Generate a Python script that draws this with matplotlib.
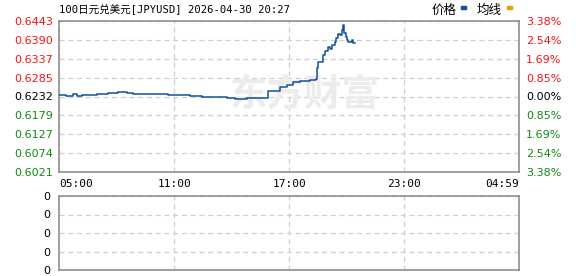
import matplotlib
matplotlib.use("Agg")
import matplotlib.pyplot as plt
import numpy as np

# ---- data ----
times = ["05:00","05:22","05:44","05:56","06:12","06:53","06:59","07:33","07:49","08:05",
         "08:27","08:33","08:52","09:14","09:45","10:01","10:32","10:41","11:19","11:50",
         "12:28","13:02","13:24","13:46","14:11","14:49","15:23","15:51","15:54","16:16",
         "16:32","16:54","17:13","17:34","18:06","18:25","18:28","18:31","18:43","18:46",
         "18:53","19:02","19:08","19:15","19:24","19:27","19:33","19:40","19:46","19:48",
         "19:50","19:55","19:58","20:02","20:05","20:14","20:17","20:20","20:27"]
prices = [0.6235,0.6234,0.6238,0.6234,0.6236,0.6236,0.6238,0.6241,0.6242,0.6245,
          0.6245,0.6241,0.6238,0.6239,0.6239,0.6238,0.6238,0.6235,0.6236,0.6234,
          0.6230,0.6231,0.6231,0.6227,0.6225,0.6228,0.6229,0.6229,0.6247,0.6248,
          0.6258,0.6264,0.6273,0.6276,0.6279,0.6281,0.6312,0.6329,0.6329,0.6348,
          0.6360,0.6370,0.6365,0.6376,0.6384,0.6395,0.6407,0.6404,0.6418,0.6432,
          0.6409,0.6409,0.6399,0.6390,0.6385,0.6385,0.6389,0.6382,0.6381]
price_ticks = [0.6443, 0.6390, 0.6337, 0.6285, 0.6232, 0.6179, 0.6127, 0.6074, 0.6021]
price_labels = ["0.6443", "0.6390", "0.6337", "0.6285", "0.6232", "0.6179", "0.6127", "0.6074", "0.6021"]
pct_labels = ["3.38%", "2.54%", "1.69%", "0.85%", "0.00%", "0.85%", "1.69%", "2.54%", "3.38%"]
x_tick_labels = ["05:00", "11:00", "17:00", "23:00", "04:59"]
vol_labels = ["0", "0", "0", "0", "0"]
title = "100日元兑美元[JPYUSD] 2026-04-30 20:27"

RED = "#ff1010"
GREEN = "#108a10"
BLACK = "#000000"
BLUE = "#12509e"
GRID = "#cfcfcf"
SPINE = "#8f8f8f"

def to_min(s):
    h, m = map(int, s.split(":"))
    return ((h - 5) % 24) * 60 + m

xs = np.array([to_min(t) for t in times])
tick_pos = [to_min(t) if i < 4 else 1439 for i, t in enumerate(x_tick_labels)]

W, H = 578, 276
fig = plt.figure(figsize=(W / 100, H / 100), dpi=100)

def ax_rect(l, t, r, b):
    return [l / W, 1 - b / H, (r - l) / W, (b - t) / H]

ax = fig.add_axes(ax_rect(59, 21, 519, 172))
ax.set_xlim(0, 1439)
ax.set_ylim(price_ticks[-1], price_ticks[0])

# watermark (inside axes, below the line)
ax.text(305 / W, 1 - 95 / H, "东方财富", transform=fig.transFigure, family=["Noto Sans CJK SC"],
        fontsize=27, fontweight="bold", color="#ececec", ha="center", va="center",
        zorder=1, style="italic")

ax.plot(xs, prices, color=BLUE, lw=1.1, drawstyle="steps-post", zorder=3)

for sp in ax.spines.values():
    sp.set_color(SPINE)
    sp.set_linewidth(1.2)
ax.set_yticks(price_ticks)
ax.set_yticklabels(price_labels)
ax.set_xticks(tick_pos)
ax.set_xticklabels(x_tick_labels)
ax.tick_params(length=0, labelsize=8)
ax.tick_params(axis="y", pad=4)
ax.tick_params(axis="x", pad=5)
for lab, v in zip(ax.get_yticklabels(), price_ticks):
    lab.set_color(RED if v > 0.6232 else (GREEN if v < 0.6232 else BLACK))
xl = ax.get_xticklabels()
for f in xl:
    f.set_family("DejaVu Sans Mono")
xl[0].set_ha("left")
xl[-1].set_ha("right")
ax.grid(True, color=GRID, ls=(0, (4, 3)), lw=0.9, zorder=0)
ax.set_axisbelow(True)

ax2 = ax.twinx()
ax2.set_ylim(ax.get_ylim())
ax2.set_yticks(price_ticks)
ax2.set_yticklabels(pct_labels)
ax2.tick_params(length=0, labelsize=8, pad=5)
for lab, v in zip(ax2.get_yticklabels(), price_ticks):
    lab.set_color(RED if v > 0.6232 else (GREEN if v < 0.6232 else BLACK))
for sp in ax2.spines.values():
    sp.set_visible(False)
ax2.patch.set_alpha(0)

# lower panel
bx = fig.add_axes(ax_rect(59, 196, 519, 270))
bx.set_xlim(0, 1439)
bx.set_ylim(0, 4)
bx.set_yticks(range(5))
bx.set_yticklabels(vol_labels)
bx.set_xticks(tick_pos[1:4])
bx.set_xticklabels([])
bx.tick_params(length=0, labelsize=8, pad=6)
bx.grid(True, color=GRID, ls=(0, (4, 3)), lw=0.9)
for sp in bx.spines.values():
    sp.set_color(SPINE)
    sp.set_linewidth(1.2)

# title
fig.text(59 / W, 1 - 10 / H, title, family=["DejaVu Sans Mono", "Noto Sans CJK SC"],
         fontsize=7.6, ha="left", va="center", color=BLACK)

# legend
fig.text(432 / W, 1 - 10 / H, "价格", family=["Noto Sans CJK SC"], fontsize=9,
         ha="left", va="center", color=BLACK)
fig.patches.append(plt.Rectangle((461 / W, 1 - 9 / H), 5 / W, 3 / H, transform=fig.transFigure,
                                 color=BLUE, figure=fig))
fig.text(477 / W, 1 - 10 / H, "均线", family=["Noto Sans CJK SC"], fontsize=9,
         ha="left", va="center", color=BLACK)
fig.patches.append(plt.Rectangle((507 / W, 1 - 9 / H), 5 / W, 3 / H, transform=fig.transFigure,
                                 color="#e0a000", figure=fig))

fig.savefig("out.png", dpi=100)
